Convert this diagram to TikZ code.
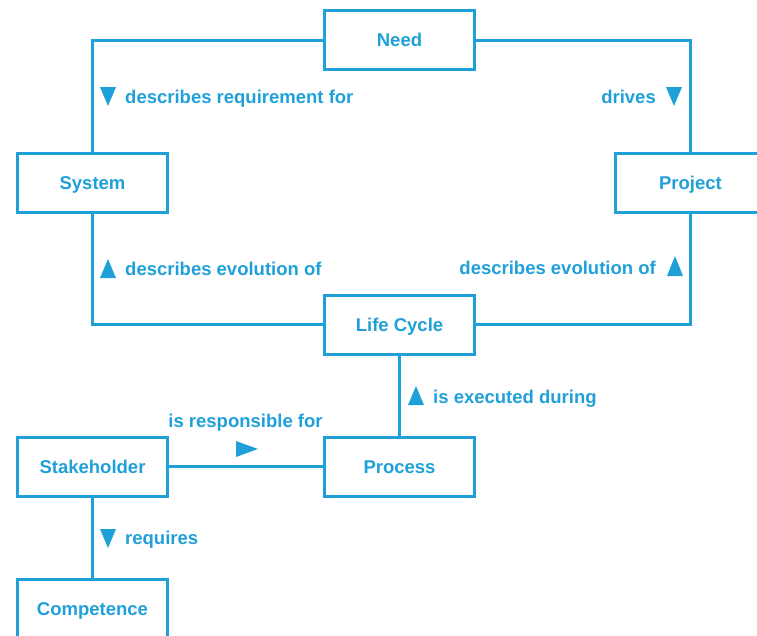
\documentclass[tikz,border=0pt]{standalone}
\usepackage{fontspec}
\setmainfont{Liberation Sans}
\definecolor{conceptblue}{RGB}{31,160,216}
\begin{document}
\begin{tikzpicture}[x=1pt,y=-1pt,
  concept/.style={draw=conceptblue, line width=3pt, fill=white,
    minimum width=150pt, minimum height=59pt, inner sep=0pt,
    text height=13.3pt, text depth=0pt,
    font=\fontsize{18.5}{22}\selectfont\bfseries, text=conceptblue},
  link/.style={draw=conceptblue, line width=3pt},
  lbl/.style={inner sep=0pt, font=\fontsize{18.5}{22}\selectfont\bfseries, text=conceptblue},
  tri/.style={fill=conceptblue, draw=none}
]
\useasboundingbox (0,0) rectangle (757,635);

% connectors (drawn first, boxes cover their ends)
\coordinate (nw) at (92.5,40);
\coordinate (ne) at (690.5,40);
\coordinate (sw) at (92.5,324.5);
\coordinate (se) at (690.5,324.5);

% concept boxes
\node[concept] (need)    at (399.5,40)    {Need};
\node[concept] (system)  at (92.5,182.5)  {System};
\node[concept] (project) at (690.5,182.5) {Project};
\node[concept] (life)    at (399.5,324.5) {Life Cycle};
\node[concept] (stake)   at (92.5,466.5)  {Stakeholder};
\node[concept] (process) at (399.5,466.5) {Process};
\node[concept] (comp)    at (92.5,608.5)  {Competence};

\draw[link] (need.west) -- (nw) -- (system.north);
\draw[link] (need.east) -- (ne) -- (project.north);
\draw[link] (system.south) -- (sw) -- (life.west);
\draw[link] (project.south) -- (se) -- (life.east);
\draw[link] (life.south) -- (process.north);
\draw[link] (stake.east) -- (process.west);
\draw[link] (stake.south) -- (comp.north);

% reading-direction marks
\fill[tri] (100,87) -- (116,87) -- (108,106) -- cycle;
\fill[tri] (666,87) -- (682,87) -- (674,106) -- cycle;
\fill[tri] (100,278) -- (116,278) -- (108,259) -- cycle;
\fill[tri] (667,276) -- (683,276) -- (675,256) -- cycle;
\fill[tri] (408,405) -- (424,405) -- (416,386) -- cycle;
\fill[tri] (236,441) -- (236,457) -- (258,449) -- cycle;
\fill[tri] (100,529) -- (116,529) -- (108,548) -- cycle;

% association labels
\node[lbl, anchor=base west] (l1) at (125,103.5) {describes requirement for};
\node[lbl, anchor=base east] (l2) at (656,103.5) {drives};
\node[lbl, anchor=base west] (l3) at (125,275) {describes evolution of};
\node[lbl, anchor=base east] (l4) at (656,274) {describes evolution of};
\node[lbl, anchor=base west] (l5) at (433,403) {is executed during};
\node[lbl, anchor=base] (l6) at (245.5,427.5) {is responsible for};
\node[lbl, anchor=base west] (l7) at (125,544) {requires};
\end{tikzpicture}
\end{document}
